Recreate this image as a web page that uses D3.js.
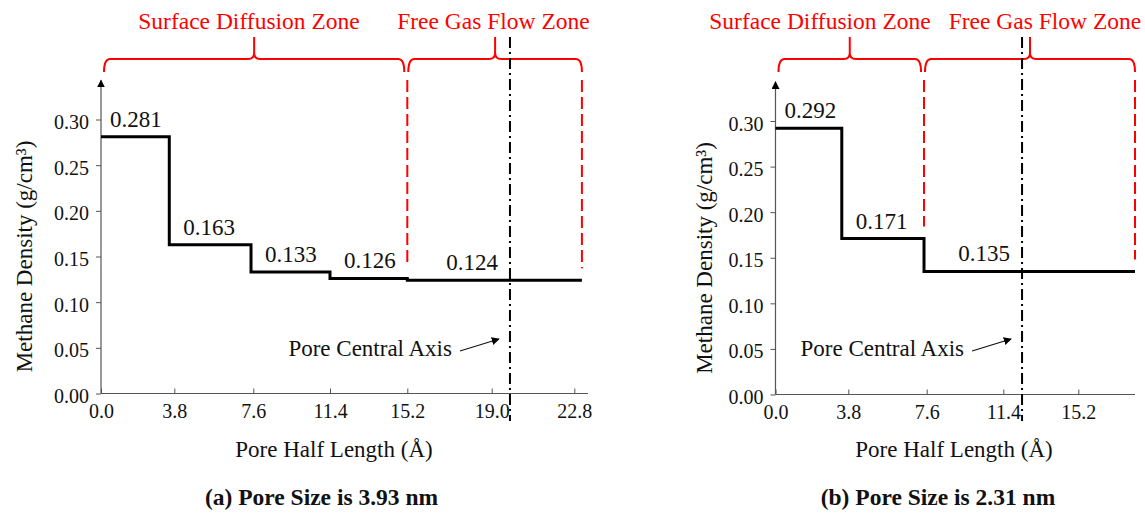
<!DOCTYPE html>
<html>
<head>
<meta charset="utf-8">
<script src="https://cdn.jsdelivr.net/npm/d3@7"></script>
<style>
  html, body { margin: 0; padding: 0; background: #fff; }
  svg text { font-family: "Liberation Serif", "DejaVu Serif", "Times New Roman", Times, serif !important; }
</style>
</head>
<body>
<script>
// Methane density layers across the pore half length (Å), two pore sizes
const stepEdgesA = [0, 3.54, 7.49, 11.4, 15.2, 23.15];
const stepValuesA = [0.281, 0.163, 0.133, 0.126, 0.124];
const stepEdgesB = [0, 3.46, 7.47, 18.0];
const stepValuesB = [0.292, 0.171, 0.135];

const xTicksA = [0, 3.8, 7.6, 11.4, 15.2, 19.0, 22.8];
const xTicksB = [0, 3.8, 7.6, 11.4, 15.2];
const yTicks = [0, 0.05, 0.10, 0.15, 0.20, 0.25, 0.30];

const zoneNames = ["Surface Diffusion Zone", "Free Gas Flow Zone"];
const zoneEdgesA = [0, 15.2, 23.15];
const zoneEdgesB = [0, 7.47, 18.0];

const centralAxisA = 19.84;
const centralAxisB = 12.35;

const captions = ["(a) Pore Size is 3.93 nm", "(b) Pore Size is 2.31 nm"];
const xTitle = "Pore Half Length (Å)";
const yTitle = "Methane Density (g/cm³)";
const axisNote = "Pore Central Axis";

const SERIF = '"Liberation Serif", "DejaVu Serif", "Times New Roman", Times, serif';

// Panel layouts (pixel geometry only)
const panels = [
  {
    edges: stepEdgesA, values: stepValuesA, xTicks: xTicksA, zones: zoneEdgesA, center: centralAxisA,
    xDomain: [0, 3.8, 7.6, 11.4, 15.2, 19.0, 22.8, 23.43],
    xRange: [101, 174.3, 253.3, 330, 407.3, 491.7, 574.3, 588],
    yRange: [393.5, 119.5],
    zoneLabelX: [249, 493.5],
    yTitleX: 32, yTitleY: 256.5,
    xTitleX: 334, captionX: 321.5, caption: captions[0]
  },
  {
    edges: stepEdgesB, values: stepValuesB, xTicks: xTicksB, zones: zoneEdgesB, center: centralAxisB,
    xDomain: [0, 3.8, 7.6, 11.4, 15.2, 18.0],
    xRange: [775.5, 848.3, 926.7, 1003.3, 1078.3, 1135],
    yRange: [394.5, 121],
    zoneLabelX: [820, 1045],
    yTitleX: 711.5, yTitleY: 258,
    xTitleX: 954, captionX: 938, caption: captions[1]
  }
];

const svg = d3.select("body").append("svg")
  .attr("width", 1145).attr("height", 514)
  .attr("font-family", SERIF);

const defs = svg.append("defs");
defs.append("marker")
  .attr("id", "tri").attr("viewBox", "0 0 10 10")
  .attr("refX", 9).attr("refY", 5)
  .attr("markerWidth", 8).attr("markerHeight", 8)
  .attr("markerUnits", "userSpaceOnUse")
  .attr("orient", "auto")
  .append("path").attr("d", "M0,0 L10,5 L0,10 Z").attr("fill", "#000");

function bracePath(x0, x1, yBar, yEnd, yTip) {
  const m = (x0 + x1) / 2, r = 6;
  return `M${x0},${yEnd} Q${x0},${yBar} ${x0 + r},${yBar} H${m - r} Q${m},${yBar} ${m},${yBar - r} V${yTip}` +
         ` M${m},${yBar - r} Q${m},${yBar} ${m + r},${yBar} H${x1 - r} Q${x1},${yBar} ${x1},${yEnd}`;
}

panels.forEach(p => {
  const x = d3.scaleLinear().domain(p.xDomain).range(p.xRange);
  const y = d3.scaleLinear().domain([0, 0.3]).range(p.yRange);
  const g = svg.append("g");
  const x0 = x(0), xEnd = p.xRange[p.xRange.length - 1];

  // X axis (ticks point inward)
  const xAxis = g.append("g")
    .attr("transform", `translate(0,${y(0)})`)
    .call(d3.axisBottom(x).tickValues(p.xTicks).tickFormat(d3.format(".1f"))
      .tickSize(-5).tickSizeOuter(0).tickPadding(10));
  xAxis.attr("font-family", SERIF);
  xAxis.select(".domain").attr("d", `M${x0},0H${xEnd}`).attr("stroke", "#555");
  xAxis.selectAll(".tick line").attr("stroke", "#555");
  xAxis.selectAll(".tick text").attr("font-size", 20).attr("fill", "#111")
    .attr("font-family", SERIF)
    .attr("y", 0).attr("dy", 24.5);

  // Y axis with arrow at the top
  const yAxis = g.append("g")
    .attr("transform", `translate(${x0},0)`)
    .call(d3.axisLeft(y).tickValues(yTicks).tickFormat(d3.format(".2f"))
      .tickSize(5).tickSizeOuter(0).tickPadding(7));
  yAxis.attr("font-family", SERIF);
  yAxis.select(".domain").remove();
  yAxis.selectAll(".tick line").attr("stroke", "#555");
  yAxis.selectAll(".tick text").attr("font-size", 20).attr("fill", "#111")
    .attr("font-family", SERIF).attr("dy", "0.45em");
  g.append("line")
    .attr("x1", x0).attr("x2", x0)
    .attr("y1", y(0)).attr("y2", y(0.343))
    .attr("stroke", "#555").attr("stroke-width", 1.2)
    .attr("marker-end", "url(#tri)");

  // Density step profile
  const pts = p.values.map((v, i) => [p.edges[i], v]);
  pts.push([p.edges[p.edges.length - 1], p.values[p.values.length - 1]]);
  g.append("path")
    .attr("d", d3.line().x(d => x(d[0])).y(d => y(d[1])).curve(d3.curveStepAfter)(pts))
    .attr("fill", "none").attr("stroke", "#000").attr("stroke-width", 3);

  // Value labels above each layer
  const cx = x(p.center);
  p.values.forEach((v, i) => {
    const last = i === p.values.length - 1;
    g.append("text")
      .attr("x", last ? cx - 12 : x(p.edges[i]) + (i === 0 ? 9 : 14))
      .attr("y", y(v) - 10)
      .attr("text-anchor", last ? "end" : "start")
      .attr("font-size", 23).attr("fill", "#111")
      .text(v.toFixed(3));
  });

  // Zone boundaries (red dashed) and braces
  const valueAt = t => {
    let k = p.edges.findIndex(e => e >= t - 1e-9) - 1;
    k = Math.max(0, Math.min(p.values.length - 1, k));
    return p.values[k];
  };
  p.zones.slice(1).forEach(z => {
    g.append("line")
      .attr("x1", x(z)).attr("x2", x(z))
      .attr("y1", 80).attr("y2", y(valueAt(z)) - 12)
      .attr("stroke", "#ff0000").attr("stroke-width", 2)
      .attr("stroke-dasharray", "12,5");
  });
  zoneNames.forEach((name, i) => {
    const a = x(p.zones[i]) + (i === 0 ? 3 : 1);
    const b = x(p.zones[i + 1]) - (i === 0 ? 3 : 0);
    g.append("path")
      .attr("d", bracePath(a, b, 59, 72, 37))
      .attr("fill", "none").attr("stroke", "#ff0000").attr("stroke-width", 2);
    g.append("text")
      .attr("x", p.zoneLabelX[i]).attr("y", 29)
      .attr("text-anchor", "middle")
      .attr("font-size", 23.5).attr("fill", "#ff0000")
      .text(name);
  });

  // Pore central axis (dash-dot) with note
  g.append("line")
    .attr("x1", cx).attr("x2", cx)
    .attr("y1", 37).attr("y2", 421)
    .attr("stroke", "#000").attr("stroke-width", 2)
    .attr("stroke-dasharray", "11,4,2,4");
  g.append("text")
    .attr("x", cx - 58).attr("y", 356)
    .attr("text-anchor", "end")
    .attr("font-size", 23).attr("fill", "#111")
    .text(axisNote);
  g.append("line")
    .attr("x1", cx - 50).attr("y1", 351)
    .attr("x2", cx - 11).attr("y2", 339)
    .attr("stroke", "#111").attr("stroke-width", 1.2)
    .attr("marker-end", "url(#tri)");

  // Axis titles and caption
  g.append("text")
    .attr("transform", `translate(${p.yTitleX},${p.yTitleY}) rotate(-90)`)
    .attr("text-anchor", "middle")
    .attr("font-size", 23).attr("fill", "#111")
    .text(yTitle);
  g.append("text")
    .attr("x", p.xTitleX).attr("y", 457)
    .attr("text-anchor", "middle")
    .attr("font-size", 23).attr("fill", "#111")
    .text(xTitle);
  g.append("text")
    .attr("x", p.captionX).attr("y", 505)
    .attr("text-anchor", "middle")
    .attr("font-size", 23.5).attr("font-weight", "bold").attr("fill", "#111")
    .text(p.caption);
});
</script>
</body>
</html>
